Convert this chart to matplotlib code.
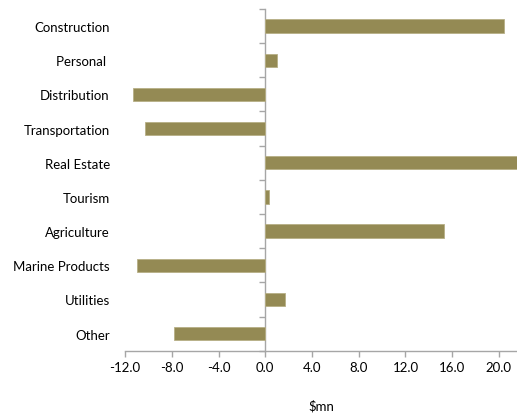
import matplotlib.pyplot as plt

plt.rcParams['font.family'] = ['Lato', 'DejaVu Sans']

sectors = ['Construction', 'Personal ', 'Distribution', 'Transportation', 'Real Estate',
           'Tourism', 'Agriculture', 'Marine Products', 'Utilities', 'Other']
change = [20.4, 1.0, -11.3, -10.3, 22.5, 0.35, 15.3, -11.0, 1.7, -7.8]
xticks = [-12, -8, -4, 0, 4, 8, 12, 16, 20]

bar_color = '#948A54'
axis_color = '#A6A6A6'

fig = plt.figure(figsize=(5.17, 4.14), dpi=100)
ax = fig.add_axes([0.242, 0.1505, 0.758, 0.8255])

pos = list(range(len(sectors)))
ax.barh(pos, change, height=0.39, color=bar_color, edgecolor='#B7AF86', linewidth=0.6)

xmin, xmax = -12, 21.55
ax.set_xlim(xmin, xmax)
ax.set_ylim(len(sectors) - 0.5, -0.5)

# category labels sit at the left edge of the plot
ax.set_yticks(pos, sectors)
ax.tick_params(axis='y', length=0, pad=11, labelsize=9.5, colors='black')

ax.set_xticks(xticks, [f'{t:.1f}' for t in xticks])
ax.tick_params(axis='x', length=4, width=1, color=axis_color, pad=3.5, labelsize=9.5)
ax.set_xlabel('$mn', fontsize=9.5, labelpad=19)

for side in ['left', 'right', 'top']:
    ax.spines[side].set_visible(False)
ax.spines['bottom'].set_color(axis_color)
ax.spines['bottom'].set_linewidth(1)

# vertical axis through zero with ticks between the categories
zero = ax.secondary_yaxis((0 - xmin) / (xmax - xmin))
zero.set_yticks([p - 0.5 for p in pos] + [len(sectors) - 0.5], [])
zero.tick_params(length=4, width=1, color=axis_color)
zero.spines['left'].set_color(axis_color)
zero.spines['left'].set_linewidth(1)

fig.savefig('out.png', dpi=100)
